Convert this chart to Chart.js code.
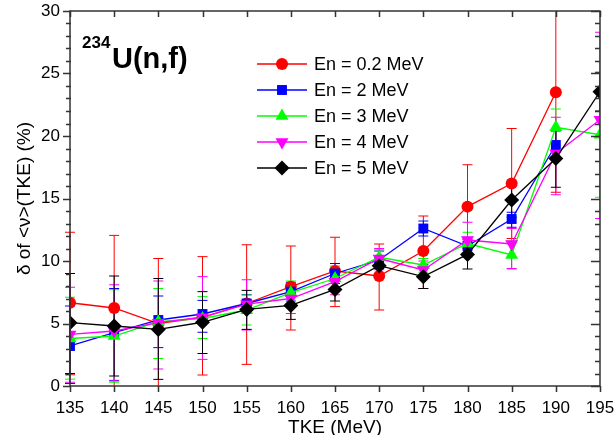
<!DOCTYPE html>
<html>
<head>
<meta charset="utf-8">
<script src="https://cdn.jsdelivr.net/npm/chart.js@4/dist/chart.umd.min.js"></script>
<style>
  body { margin: 0; background: #fff; }
  canvas { display: block; }
</style>
</head>
<body>
<canvas id="chart" width="614" height="435"></canvas>
<script>
// TKE bins (MeV)
const tke = [135, 140, 145, 150, 155, 160, 165, 170, 175, 180, 185, 190, 195];

// delta of <nu>(TKE) in %, one array per incident energy
const en02 = [6.66, 6.24, 5.0, 5.5, 6.6, 7.95, 9.2, 8.8, 10.8, 14.35, 16.2, 23.5, null];
const en02Lo = [0.9, -0.5, -0.5, 0.88, 1.73, 4.48, 6.35, 6.08, 7.8, 11.0, 11.8, 15.5, null];
const en02Hi = [12.3, 12.05, 10.2, 10.35, 11.3, 11.2, 11.9, 11.36, 13.6, 17.7, 20.6, 31.5, null];

const en2 = [3.2, 4.27, 5.28, 5.76, 6.6, 7.55, 9.0, 10.08, 12.6, 11.2, 13.36, 19.28, null];
const en2Lo = [0.2, 0.45, 3.07, 4.3, 5.8, 6.8, 8.2, 9.4, 12.0, 10.5, 12.7, 18.2, null];
const en2Hi = [6.4, 7.8, 7.2, 6.85, 7.3, 8.3, 9.8, 10.8, 13.2, 11.9, 13.9, 20.4, null];

const en3 = [3.8, 4.0, 5.15, 5.4, 6.08, 7.47, 8.6, 10.3, 9.68, 11.4, 10.48, 20.7, 20.1];
const en3Lo = [0.55, 0.3, 2.2, 3.8, 4.88, 6.6, 7.6, 9.7, 9.1, 10.5, 9.36, 19.2, 15.1];
const en3Hi = [7.1, 7.7, 7.8, 7.15, 7.28, 8.4, 9.6, 10.9, 10.2, 12.3, 11.6, 22.16, 25.0];

const en4 = [4.13, 4.4, 5.07, 5.5, 6.55, 7.0, 8.35, 10.2, 9.28, 11.68, 11.36, 18.6, 21.3];
const en4Lo = [0.3, 0.4, 1.36, 2.13, 4.48, 5.8, 7.3, 9.3, 8.6, 10.3, 9.4, 15.3, 13.4];
const en4Hi = [7.9, 8.1, 8.4, 8.75, 8.5, 8.2, 9.4, 11.0, 10.0, 13.1, 12.6, 21.5, 28.3];

const en5 = [5.07, 4.8, 4.53, 5.1, 6.13, 6.45, 7.73, 9.63, 8.75, 10.53, 14.88, 18.2, 23.55];
const en5Lo = [1.0, 0.8, 0.53, 2.6, 4.53, 5.33, 6.8, 8.9, 7.8, 9.36, 13.5, 15.9, 22.0];
const en5Hi = [9.0, 8.8, 8.6, 7.55, 7.65, 7.6, 8.6, 10.4, 9.7, 11.7, 16.2, 20.5, 25.1];

const labels = ["En = 0.2 MeV", "En = 2 MeV", "En = 3 MeV", "En = 4 MeV", "En = 5 MeV"];
const values = [en02, en2, en3, en4, en5];
const lows = [en02Lo, en2Lo, en3Lo, en4Lo, en5Lo];
const highs = [en02Hi, en2Hi, en3Hi, en4Hi, en5Hi];
const colors = ["#ff0000", "#0000ff", "#00ff00", "#ff00ff", "#000000"];
const shapes = ["circle", "rect", "triangle", "triangle", "rectRot"];
const radii = [6, 7, 7.5, 7.5, 7.5];
const rotations = [0, 0, 0, 180, 0];

const FONT = "'Liberation Sans', Arial, sans-serif";

const datasets = values.map((vals, i) => ({
  label: labels[i],
  data: tke.map((x, j) => ({ x: x, y: vals[j] })).filter(p => p.y !== null),
  borderColor: colors[i],
  backgroundColor: colors[i],
  borderWidth: 1.3,
  pointStyle: shapes[i],
  pointRadius: radii[i],
  pointRotation: rotations[i],
  pointBorderWidth: 0,
  order: 4 - i,
  tension: 0
}));

// plot box taken from the scales (x range is 135..195, y range 0..30)
function plotBox(chart) {
  const { x, y } = chart.scales;
  return {
    left: x.getPixelForValue(x.min), right: x.getPixelForValue(x.max),
    top: y.getPixelForValue(y.max), bottom: y.getPixelForValue(y.min)
  };
}

// error bars, drawn under the markers
const errorBars = {
  id: "errorBars",
  beforeDatasetsDraw(chart) {
    const { ctx, scales } = chart;
    const b = plotBox(chart);
    ctx.save();
    ctx.beginPath();
    ctx.rect(b.left - 6, b.top, b.right - b.left + 6, b.bottom - b.top);
    ctx.clip();
    ctx.lineWidth = 1;
    values.forEach((vals, i) => {
      ctx.strokeStyle = colors[i];
      tke.forEach((t, j) => {
        if (vals[j] === null) return;
        const x = scales.x.getPixelForValue(t);
        const y1 = scales.y.getPixelForValue(lows[i][j]);
        const y2 = scales.y.getPixelForValue(highs[i][j]);
        ctx.beginPath();
        ctx.moveTo(x, y1); ctx.lineTo(x, y2);
        ctx.moveTo(x - 5, y1); ctx.lineTo(x + 5, y1);
        ctx.moveTo(x - 5, y2); ctx.lineTo(x + 5, y2);
        ctx.stroke();
      });
    });
    ctx.restore();
  }
};

// frame, mirrored ticks, minor ticks, legend and label
const decor = {
  id: "decor",
  afterDraw(chart) {
    const { ctx, scales } = chart;
    const a = plotBox(chart);
    ctx.save();
    ctx.strokeStyle = "#333";
    ctx.lineWidth = 1.5;
    ctx.strokeRect(a.left, a.top, a.right - a.left, a.bottom - a.top);
    ctx.beginPath();
    for (let t = 135; t <= 195; t += 5) {
      const x = Math.round(scales.x.getPixelForValue(t)) + 0.5;
      ctx.moveTo(x, a.bottom); ctx.lineTo(x, a.bottom + 6);
      ctx.moveTo(x, a.top); ctx.lineTo(x, a.top + 6);
    }
    for (let v = 0; v <= 30; v += 1) {
      const y = Math.round(scales.y.getPixelForValue(v)) + 0.5;
      const major = v % 5 === 0;
      ctx.moveTo(a.left - (major ? 7 : 4), y); ctx.lineTo(a.left + 1, y);
      ctx.moveTo(a.right - (major ? 9 : 5), y); ctx.lineTo(a.right, y);
    }
    ctx.stroke();

    // legend
    const lx = 257, ly = 64, step = 26;
    ctx.font = "18px " + FONT;
    ctx.textBaseline = "middle";
    ctx.textAlign = "left";
    labels.forEach((lab, i) => {
      const y = ly + i * step;
      ctx.strokeStyle = colors[i];
      ctx.lineWidth = 1.3;
      ctx.beginPath();
      ctx.moveTo(lx, y); ctx.lineTo(lx + 50, y);
      ctx.stroke();
      ctx.fillStyle = colors[i];
      Chart.helpers.drawPoint(ctx, {
        pointStyle: shapes[i], radius: radii[i], rotation: rotations[i], borderWidth: 0
      }, lx + 25, y);
      ctx.fillStyle = "#000";
      ctx.fillText(lab, lx + 57, y + 1);
    });

    // reaction label
    ctx.fillStyle = "#000";
    ctx.textBaseline = "alphabetic";
    ctx.font = "bold 17px " + FONT;
    ctx.fillText("234", 82, 48);
    ctx.font = "bold 29px " + FONT;
    ctx.fillText("U(n,f)", 112, 68);
    ctx.restore();
  }
};

new Chart(document.getElementById("chart"), {
  type: "line",
  data: { datasets: datasets },
  plugins: [errorBars, decor],
  options: {
    responsive: false,
    animation: false,
    devicePixelRatio: 1,
    layout: { padding: { top: 11, right: 0, left: 0, bottom: 0 } },
    plugins: { legend: { display: false }, tooltip: { enabled: false } },
    scales: {
      x: {
        type: "linear",
        min: 135, max: 195,
        afterFit(scale) {
          scale.height = 49;
          scale.paddingLeft = 0;
          scale.paddingRight = 14;
        },
        grid: { display: false, drawTicks: false },
        border: { display: false },
        ticks: { stepSize: 5, padding: 12, color: "#000", font: { family: FONT, size: 17 } },
        title: { display: true, text: "TKE (MeV)", color: "#000", padding: { top: 0, bottom: -4 }, font: { family: FONT, size: 19 } }
      },
      y: {
        min: 0, max: 30,
        afterFit(scale) {
          scale.width = 70;
          scale.paddingTop = 0;
          scale.paddingBottom = 0;
        },
        grid: { display: false, drawTicks: false },
        border: { display: false },
        ticks: { stepSize: 5, padding: 10, color: "#000", font: { family: FONT, size: 17 } },
        title: { display: true, text: "δ of <ν>(TKE) (%)", color: "#000", padding: { top: 13 }, font: { family: FONT, size: 19 } }
      }
    }
  }
});
</script>
</body>
</html>
